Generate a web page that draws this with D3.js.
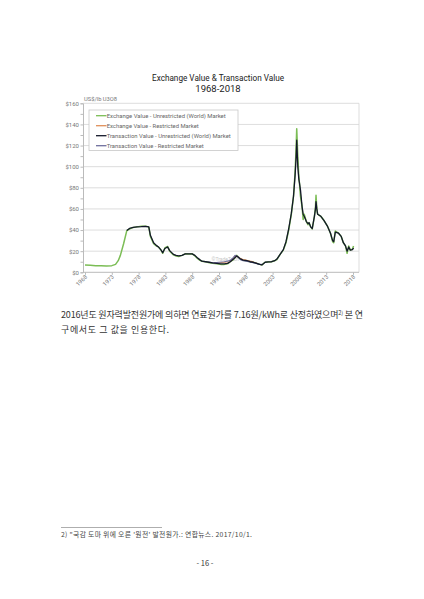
<!DOCTYPE html>
<html>
<head>
<meta charset="utf-8">
<script src="https://cdn.jsdelivr.net/npm/d3@7"></script>
<style>
  html, body { margin: 0; padding: 0; background: #fff; }
  svg { display: block; }
</style>
</head>
<body>
<div id="page"></div>
<script>
// chart values
const yearTicks = [1968, 1973, 1978, 1983, 1988, 1993, 1998, 2003, 2008, 2013, 2018]
const priceTicks = [0, 20, 40, 60, 80, 100, 120, 140, 160]

const exchangeYears = [1968, 1969, 1970, 1971, 1972, 1973, 1973.7, 1974.2, 1974.6, 1975.2, 1975.8, 1976.3, 1977, 1977.7, 1978.5, 1979.3, 1979.9, 1980.2, 1980.8, 1981.3, 1981.7, 1982.2, 1982.5, 1982.9, 1983.4, 1983.8, 1984.5, 1985, 1985.5, 1986.1, 1986.7, 1987.4, 1988, 1988.5, 1988.9, 1989.4, 1989.8, 1990.5, 1991.2, 1991.8, 1992.6, 1993.3, 1994, 1994.6, 1995.1, 1995.7, 1996.3, 1996.9, 1997.5, 1998.2, 1998.8, 1999.4, 2000, 2000.6, 2001, 2001.6, 2002.2, 2002.8, 2003.4, 2003.8, 2004.4, 2005, 2005.5, 2006, 2006.5, 2006.9, 2007.2, 2007.4, 2007.5, 2007.7, 2007.9, 2008, 2008.2, 2008.5, 2008.7, 2008.9, 2009.3, 2009.6, 2009.8, 2010.1, 2010.4, 2010.8, 2011, 2011.1, 2011.25, 2011.4, 2012, 2012.6, 2013.2, 2013.8, 2014.2, 2014.4, 2014.7, 2015.3, 2015.8, 2016.2, 2016.6, 2016.9, 2017.2, 2017.5, 2017.9, 2018.1]
const exchangeUnrestricted = [6.9, 6.6, 6.3, 6.1, 6.0, 6.3, 7.5, 11, 16, 27, 39.5, 41, 42.5, 43, 43.5, 43.5, 43, 34, 27, 25, 24, 21, 18, 23, 24.5, 20, 16.5, 15.5, 15, 16, 17.5, 17.3, 17.5, 15.5, 13.5, 11.5, 10.5, 10, 9, 8.5, 8, 7.5, 7.5, 8, 10, 12, 16, 13, 11.5, 11, 10, 9.5, 8.5, 7.5, 7, 9.5, 9.8, 10, 11, 12, 17, 21, 28, 40, 55, 72, 95, 120, 136, 110, 90, 85, 72, 62, 50, 55, 48, 45, 47, 43, 41, 53, 62, 73, 60, 55, 53, 49, 44, 37, 29, 28, 39, 37, 34, 28, 25, 18, 25, 21, 22, 25]

const transactionYears = [1975.8, 1976.3, 1977, 1977.7, 1978.5, 1979.3, 1979.9, 1980.2, 1980.8, 1981.3, 1981.7, 1982.2, 1982.5, 1982.9, 1983.4, 1983.8, 1984.5, 1985, 1985.5, 1986.1, 1986.7, 1987.4, 1988, 1988.5, 1988.9, 1989.4, 1989.8, 1990.5, 1991.2, 1991.8, 1992.6, 1993.3, 1994, 1994.6, 1995.1, 1995.7, 1996.3, 1996.9, 1997.5, 1998.2, 1998.8, 1999.4, 2000, 2000.6, 2001, 2001.6, 2002.2, 2002.8, 2003.4, 2003.8, 2004.4, 2005, 2005.5, 2006, 2006.5, 2006.9, 2007.2, 2007.4, 2007.5, 2007.7, 2007.9, 2008, 2008.2, 2008.5, 2008.7, 2008.9, 2009.3, 2009.6, 2009.8, 2010.1, 2010.4, 2010.8, 2011, 2011.1, 2011.25, 2011.4, 2012, 2012.6, 2013.2, 2013.8, 2014.2, 2014.4, 2014.7, 2015.3, 2015.8, 2016.2, 2016.6, 2016.9, 2017.2, 2017.5, 2017.9, 2018.1]
const transactionUnrestricted = [39.5, 41.5, 42.5, 43, 43.2, 43.5, 43, 35, 28, 25.5, 24, 21, 18.5, 22.5, 24, 20.5, 17, 16, 15.5, 16, 17.5, 17.5, 17.5, 16, 14, 12, 10.5, 10, 9.5, 9, 8.5, 8, 8, 8.5, 10, 12.5, 15.5, 13, 11.5, 11, 10, 9.5, 8.5, 7.5, 7, 9.5, 9.8, 10, 11, 12.5, 17, 21.5, 29, 41, 56, 72, 92, 110, 125, 100, 88, 85, 78, 62, 55, 53, 48, 46, 47, 43, 41.5, 53, 60, 67, 60, 55, 53, 49, 44, 37, 30, 29, 38, 37, 34, 28, 25, 20, 24, 21, 21.5, 23]

const restrictedExchangeYears = [1992, 1993, 1994, 1995, 1995.5, 1996, 1996.5, 1997, 1997.5, 1998, 1998.5, 1999, 1999.5, 2000]
const exchangeRestricted = [9, 9, 9.5, 10, 12, 15.5, 15, 13, 12, 11.5, 11, 10.5, 9.5, 9]

const restrictedTransactionYears = [1991, 1992, 1993, 1994, 1995, 1995.5, 1996, 1996.5, 1997, 1997.5, 1998, 1998.5, 1999, 1999.5, 2000, 2000.5, 2001]
const transactionRestricted = [9.5, 9, 9.5, 10, 11, 13, 16, 15, 12, 11, 10.5, 10, 9.5, 9, 8.5, 7.5, 7.5]

const legendLabels = [
  'Exchange Value - Unrestricted (World) Market',
  'Exchange Value - Restricted Market',
  'Transaction Value - Unrestricted (World) Market',
  'Transaction Value - Restricted Market'
]
const legendWidths = [119, 92, 124, 97]
const legendColors = ['#7bbd55', '#e0905a', '#14182a', '#6f6f9e']

const width = 424
const height = 599
const chartFont = 'Roboto, "Open Sans", sans-serif'
const koFont = '"Noto Sans CJK KR", sans-serif'

const svg = d3.select('#page').append('svg')
  .attr('width', width)
  .attr('height', height)

const x = d3.scaleLinear().domain([1968, 2018]).range([85, 353])
const y = d3.scaleLinear().domain([0, 160]).range([272.3, 103.3])
const plotLeft = 83
const plotRight = 359

// title
svg.append('text')
  .attr('x', 152).attr('y', 80.5)
  .attr('textLength', 132).attr('lengthAdjust', 'spacingAndGlyphs')
  .style('font-family', chartFont).style('font-size', '9.5px').style('fill', '#222')
  .text('Exchange Value & Transaction Value')
svg.append('text')
  .attr('x', 218).attr('y', 91.5)
  .attr('text-anchor', 'middle')
  .style('font-family', chartFont).style('font-size', '9.5px').style('fill', '#222')
  .text('1968-2018')

svg.append('text')
  .attr('x', 84).attr('y', 100.5)
  .attr('textLength', 33).attr('lengthAdjust', 'spacingAndGlyphs')
  .style('font-family', chartFont).style('font-size', '6px').style('fill', '#777')
  .text('US$/lb U3O8')

// grid
svg.append('g')
  .selectAll('line')
  .data(priceTicks.slice(1))
  .enter()
  .append('line')
  .attr('x1', plotLeft).attr('x2', plotRight)
  .attr('y1', d => y(d)).attr('y2', d => y(d))
  .style('stroke', '#d4d4d4').style('stroke-width', 0.8)

svg.append('line')
  .attr('x1', plotRight).attr('x2', plotRight)
  .attr('y1', y(160)).attr('y2', y(0))
  .style('stroke', '#d4d4d4').style('stroke-width', 0.8)

// y axis
const yAxis = d3.axisLeft(y)
  .tickValues(d3.range(0, 161, 10))
  .tickSize(2.5)
  .tickFormat(d => d % 20 === 0 ? '$' + d : '')
const gy = svg.append('g')
  .attr('transform', `translate(${plotLeft},0)`)
  .call(yAxis)
gy.select('.domain').style('stroke', '#bbb')
gy.selectAll('.tick line').style('stroke', '#bbb')
gy.selectAll('.tick text')
  .attr('x', -4)
  .style('font-family', chartFont).style('font-size', '6px').style('fill', '#777')

// x axis
const xAxis = d3.axisBottom(x)
  .tickValues(yearTicks)
  .tickSize(2.5)
  .tickSizeOuter(0)
  .tickFormat(d3.format('d'))
const gx = svg.append('g')
  .attr('transform', `translate(0,${y(0)})`)
  .call(xAxis)
gx.select('.domain').attr('d', `M${plotLeft},0H${plotRight}`).style('stroke', '#bbb')
gx.selectAll('.tick line').style('stroke', '#bbb')
gx.selectAll('.tick text')
  .attr('text-anchor', 'end')
  .attr('dy', 0)
  .attr('transform', 'translate(2,5) rotate(-45)')
  .attr('y', 0).attr('x', 0)
  .style('font-family', chartFont).style('font-size', '5.8px').style('fill', '#777')

// watermark
svg.append('text')
  .attr('x', x(1991.6)).attr('y', y(10.5))
  .style('font-family', chartFont).style('font-size', '5px').style('fill', '#c8c8c8')
  .text('©TradeTech')

const line = d3.line()
  .x(d => x(d[0]))
  .y(d => y(d[1]))

const series = [
  {years: exchangeYears, values: exchangeUnrestricted, color: legendColors[0], w: 1.5},
  {years: restrictedExchangeYears, values: exchangeRestricted, color: legendColors[1], w: 1.1},
  {years: restrictedTransactionYears, values: transactionRestricted, color: legendColors[3], w: 1.2},
  {years: transactionYears, values: transactionUnrestricted, color: legendColors[2], w: 1.3}
]

series.forEach(s => {
  svg.append('path')
    .datum(d3.zip(s.years, s.values))
    .attr('d', line)
    .style('fill', 'none')
    .style('stroke', s.color)
    .style('stroke-width', s.w)
    .style('stroke-linejoin', 'round')
})

// legend
const legend = svg.append('g')
legend.append('rect')
  .attr('x', 89).attr('y', 110)
  .attr('width', 149).attr('height', 40.5)
  .style('fill', '#fff')
  .style('stroke', '#c8c8c8').style('stroke-width', 0.8)
legendLabels.forEach((label, i) => {
  const ly = 115.7 + i * 10
  legend.append('line')
    .attr('x1', 96).attr('x2', 106.5)
    .attr('y1', ly).attr('y2', ly)
    .style('stroke', legendColors[i]).style('stroke-width', 1.3)
  legend.append('text')
    .attr('x', 106.7).attr('y', ly + 2.1)
    .attr('textLength', legendWidths[i]).attr('lengthAdjust', 'spacingAndGlyphs')
    .style('font-family', chartFont).style('font-size', '6.2px').style('fill', '#666')
    .text(label)
})

// body text
const para = svg.append('text')
  .attr('x', 61).attr('y', 317.5)
  .attr('textLength', 302).attr('lengthAdjust', 'spacing')
  .style('font-family', koFont).style('font-size', '9px').style('fill', '#333')
para.append('tspan').text('2016년도 원자력발전원가에 의하면 연료원가를 7.16원/kWh로 산정하였으며')
para.append('tspan').attr('dy', -3).style('font-size', '5.5px').text('2)')
para.append('tspan').attr('dy', 3).text(' 본 연')
svg.append('text')
  .attr('x', 61).attr('y', 333)
  .style('font-family', koFont).style('font-size', '9px').style('fill', '#333')
  .style('letter-spacing', '0.6px')
  .text('구에서도 그 값을 인용한다.')

// footnote
svg.append('line')
  .attr('x1', 61).attr('x2', 162)
  .attr('y1', 527.5).attr('y2', 527.5)
  .style('stroke', '#777').style('stroke-width', 0.6)
svg.append('text')
  .attr('x', 61).attr('y', 536.5)
  .attr('textLength', 191).attr('lengthAdjust', 'spacing')
  .style('font-family', koFont).style('font-size', '6.8px').style('fill', '#444')
  .text('2) "국감 도마 위에 오른 \'원전\' 발전원가.: 연합뉴스. 2017/10/1.')

svg.append('text')
  .attr('x', 205).attr('y', 566)
  .attr('text-anchor', 'middle')
  .style('font-family', koFont).style('font-size', '7.5px').style('fill', '#333')
  .text('- 16 -')
</script>
</body>
</html>
